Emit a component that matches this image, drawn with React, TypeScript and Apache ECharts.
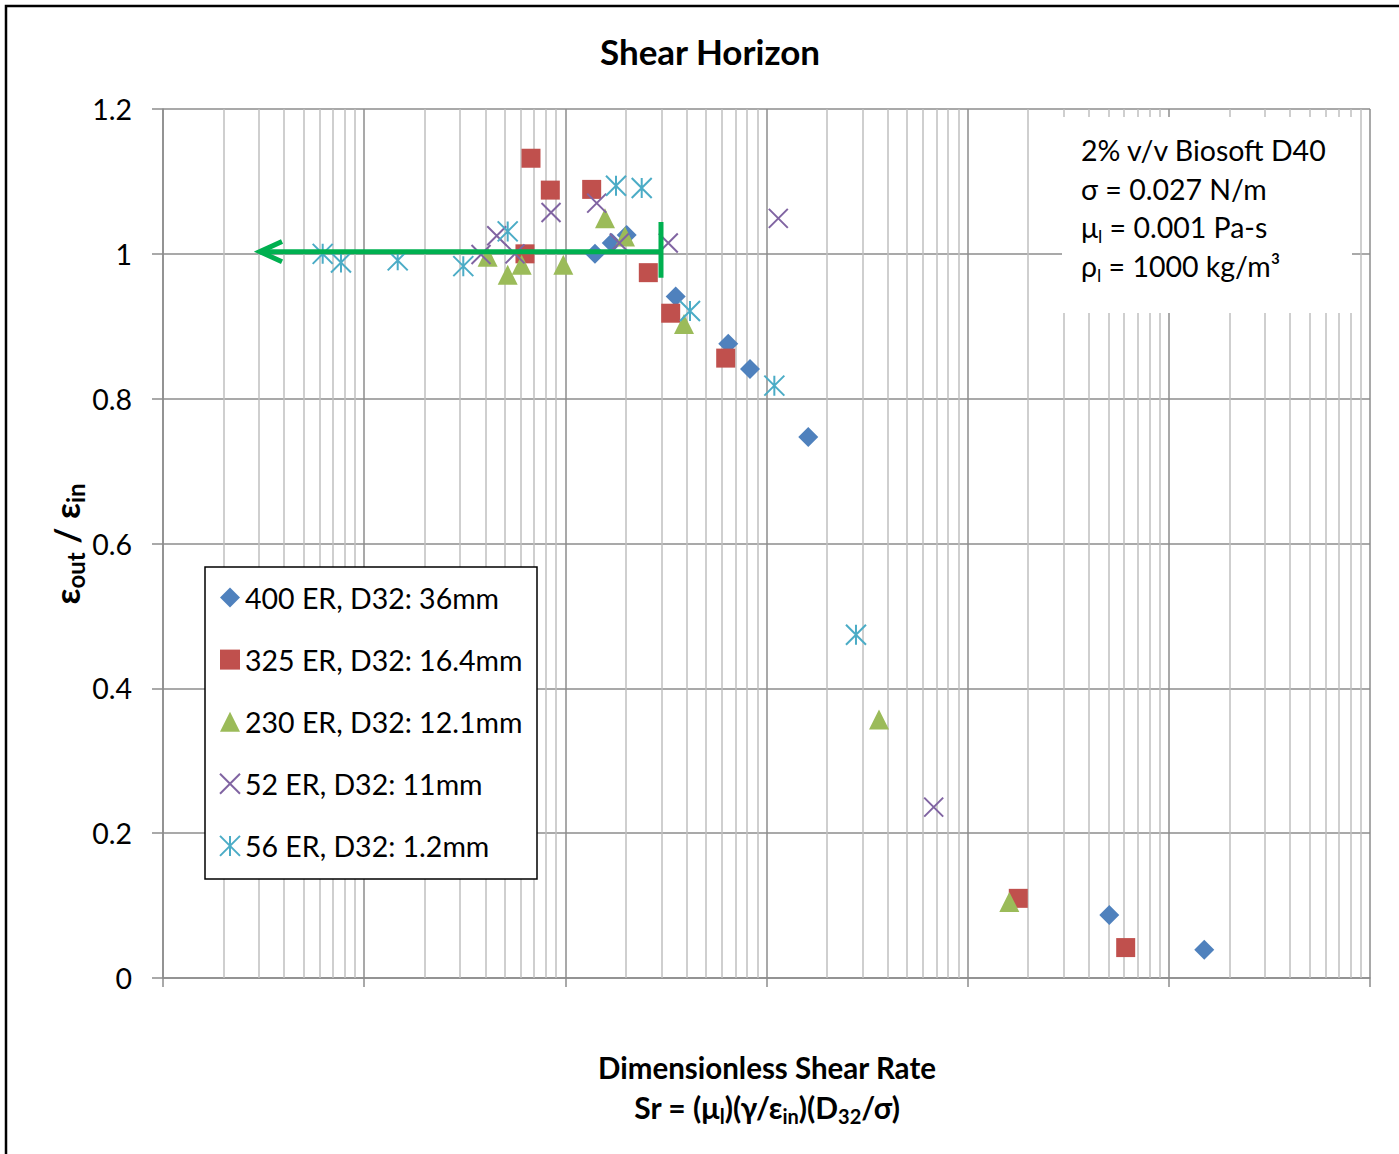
import React, { useEffect, useRef } from "react";
import * as echarts from "echarts";

const FONT = "Lato, 'Open Sans', sans-serif";

// ---- data ----
const seriesNames = [
  "400 ER, D32: 36mm",
  "325 ER, D32: 16.4mm",
  "230 ER, D32: 12.1mm",
  "52 ER, D32: 11mm",
  "56 ER, D32: 1.2mm",
];

const er400X = [140.4, 170.1, 201.8, 353.7, 645.6, 827.9, 1613, 50580, 149970];
const er400Y = [1.0, 1.015, 1.026, 0.941, 0.876, 0.841, 0.747, 0.087, 0.039];

const er325X = [67.5, 84.2, 63.0, 135.2, 258.5, 334.0, 626.9, 17850, 61030];
const er325Y = [1.132, 1.088, 1.0, 1.089, 0.974, 0.918, 0.856, 0.11, 0.042];

const er230X = [41.1, 51.7, 60.7, 97.7, 157.5, 198.0, 388.9, 3624, 16105];
const er230Y = [0.996, 0.971, 0.985, 0.985, 1.049, 1.024, 0.903, 0.357, 0.105];

const er52X = [38.1, 45.6, 56.2, 84.9, 143.2, 185.5, 324.9, 1144.7, 6778];
const er52Y = [0.999, 1.025, 1.0, 1.057, 1.07, 1.015, 1.015, 1.049, 0.236];

const er56X = [6.22, 7.67, 14.68, 31.1, 51.7, 178.6, 239.7, 416.6, 1093.8, 2785];
const er56Y = [1.0, 0.988, 0.991, 0.983, 1.031, 1.094, 1.091, 0.921, 0.818, 0.474];

// annotation arrow (green)
const arrowShaftX = [3.1, 298.9];
const arrowShaftY = [1.003, 1.003];
const arrowHeadX = [3.906, 3.03, 3.906];
const arrowHeadY = [1.017, 1.003, 0.989];
const arrowBarX = [298.9, 298.9];
const arrowBarY = [1.044, 0.967];

const xMin = 1;
const xMax = 1e6;
const yTicksMax = 1.2;
const yInterval = 0.2;

const minorMultipliers = [2, 3, 4, 5, 6, 7, 8, 9];
const minorXTicks: number[] = [];
for (let k = 0; k < 6; k++) {
  for (const m of minorMultipliers) minorXTicks.push(m * Math.pow(10, k));
}

const infoLines = [
  "{a|2% v/v Biosoft D40}",
  "{a|σ = 0.027 N/m}",
  "{a|μ}{s|l}{a| = 0.001 Pa-s}",
  "{a|ρ}{s|l}{a| = 1000 kg/m³}",
];

const zip = (xs: number[], ys: number[]) => xs.map((x, i) => [x, ys[i]]);

const colors = ["#4F81BD", "#C0504D", "#9BBB59", "#8064A2", "#4BACC6"];
const symbols = [
  "diamond",
  "rect",
  "triangle",
  "path://M0 0L10 10M10 0L0 10",
  "path://M0 0L10 10M10 0L0 10M5 0L5 10",
];
const sizes = [20, 19, 20, 19, 20];
const dataSets = [
  zip(er400X, er400Y),
  zip(er325X, er325Y),
  zip(er230X, er230Y),
  zip(er52X, er52Y),
  zip(er56X, er56Y),
];

const GRID = "#8C8C8C";
const MINOR = "#BFBFBF";
const GREEN = "#00B050";

function richSub(size: number, bold: boolean, subRatio: number) {
  const w = bold ? "bold" : "normal";
  const ss = Math.round(size * subRatio);
  return {
    a: { fontSize: size, fontWeight: w, fontFamily: FONT, lineHeight: size + 8, fill: "#000", color: "#000" },
    s: {
      fontSize: ss,
      fontWeight: w,
      fontFamily: FONT,
      lineHeight: ss,
      verticalAlign: "bottom",
      fill: "#000",
      color: "#000",
    },
  };
}

function textEl(
  x: number,
  y: number,
  text: string,
  size: number,
  bold: boolean,
  align: string,
  extra: any = {},
  subRatio = 0.62
) {
  return {
    type: "text",
    x,
    y,
    z: 5,
    ...extra,
    style: {
      text,
      rich: richSub(size, bold, subRatio),
      fontSize: size,
      fontFamily: FONT,
      fontWeight: bold ? "bold" : "normal",
      fill: "#000",
      align,
      textAlign: align,
      verticalAlign: "middle",
      textVerticalAlign: "middle",
    },
  };
}

const arrowLine = (xs: number[], ys: number[], name: string) => ({
  type: "line",
  name,
  data: zip(xs, ys),
  symbol: "none",
  silent: true,
  z: 3,
  lineStyle: {
    color: GREEN,
    width: 5,
    cap: "butt",
    join: "miter",
  },
});

export default function App() {
  const ref = useRef<HTMLDivElement>(null);
  useEffect(() => {
    const chart = echarts.init(ref.current!, null, { renderer: "svg" });
    const option: any = {
      animation: false,
      backgroundColor: "#fff",
      grid: { left: 163, right: 29, top: 109, bottom: 176, containLabel: false },
      xAxis: {
        type: "log",
        logBase: 10,
        min: xMin,
        max: xMax,
        splitNumber: 6,
        axisLabel: { show: false },
        axisLine: { show: true, lineStyle: { color: GRID, width: 1.5 } },
        axisTick: { show: true, length: 9, lineStyle: { color: GRID, width: 1.5 } },
        splitLine: { show: true, lineStyle: { color: GRID, width: 1.5 } },
      },
      yAxis: {
        type: "value",
        min: 0,
        max: yTicksMax,
        interval: yInterval,
        axisLabel: { fontSize: 28.5, fontFamily: FONT, color: "#000", margin: 31 },
        axisLine: { show: true, lineStyle: { color: GRID, width: 1.5 } },
        axisTick: { show: true, length: 11, lineStyle: { color: GRID, width: 1.5 } },
        splitLine: { show: true, lineStyle: { color: GRID, width: 1.5 } },
      },
      legend: {
        data: seriesNames,
        orient: "vertical",
        left: 219,
        top: 583,
        padding: 0,
        itemWidth: 20,
        itemHeight: 20,
        itemGap: 33.1,
        z: 6,
        textStyle: { fontSize: 28.5, fontFamily: FONT, color: "#000", lineHeight: 28 },
      },
      graphic: [
        {
          type: "rect",
          z: 4,
          shape: { x: 205, y: 567, width: 332, height: 312 },
          style: { fill: "#fff", stroke: "#000", lineWidth: 1.5 },
        },
        {
          type: "rect",
          z: 4,
          shape: { x: 1062, y: 117, width: 290, height: 196 },
          style: { fill: "#fff", stroke: "none" },
        },
        {
          type: "rect",
          z: 10,
          shape: { x: 6, y: 6, width: 1600, height: 1600 },
          style: { fill: "none", stroke: "#000", lineWidth: 2.5 },
        },
        textEl(710, 51, "{a|Shear Horizon}", 35, true, "center"),
        ...infoLines.map((t, i) => textEl(1081, 150 + i * 38.5, t, 28.5, false, "left")),
        textEl(767, 1067, "{a|Dimensionless Shear Rate}", 29.5, true, "center"),
        textEl(767, 1107, "{a|Sr = (μ}{s|l}{a|)(γ/ε}{s|in}{a|)(D}{s|32}{a|/σ)}", 30, true, "center", {}, 0.68),
        textEl(66, 544, "{a|ε}{s|out}{a| / ε}{s|in}", 35, true, "center", { rotation: Math.PI / 2 }, 0.68),
      ],
      series: [
        {
          type: "line",
          name: "minor-grid",
          data: [],
          silent: true,
          z: 1,
          markLine: {
            silent: true,
            z: 1,
            symbol: "none",
            label: { show: false },
            lineStyle: { color: MINOR, width: 1.5, type: "solid" },
            data: minorXTicks.map((v) => ({ xAxis: v })),
          },
        },
        ...dataSets.map((d, i) => ({
          type: "scatter",
          name: seriesNames[i],
          data: d,
          symbol: symbols[i],
          symbolSize: sizes[i],
          z: 2,
          itemStyle: {
            color: colors[i],
            borderColor: i >= 3 ? colors[i] : "transparent",
            borderWidth: i >= 3 ? 2 : 0,
            opacity: 1,
          },
        })),
        arrowLine(arrowShaftX, arrowShaftY, "arrow-shaft"),
        arrowLine(arrowHeadX, arrowHeadY, "arrow-head"),
        arrowLine(arrowBarX, arrowBarY, "arrow-bar"),
      ],
    };
    chart.setOption(option);
    return () => chart.dispose();
  }, []);
  return (
    <div
      ref={ref}
      style={{ position: "fixed", left: 0, top: 0, width: 1399, height: 1154, background: "#fff" }}
    />
  );
}
